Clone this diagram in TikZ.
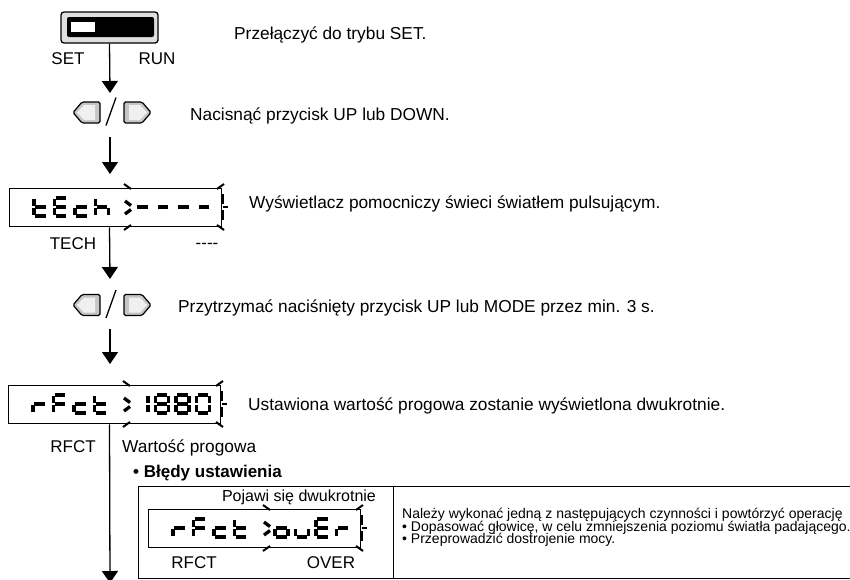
\documentclass[tikz,border=0pt]{standalone}
\usepackage{fontspec}
\setmainfont{Liberation Sans}
\usetikzlibrary{arrows.meta}

\tikzset{
  arr/.style={line width=1.3pt, -{Triangle[width=16pt,length=12pt]}},
  seg/.style={line width=3.3pt},
  flash/.style={line width=2pt},
  lcdbox/.style={draw, line width=1.4pt, minimum width=212pt, minimum height=38pt, inner sep=0pt, anchor=north west},
  txt/.style={anchor=base west, inner sep=0pt, font=\fontsize{17.3}{20}\selectfont},
  lbl/.style={anchor=base, inner sep=0pt, font=\fontsize{17}{20}\selectfont},
  small/.style={anchor=base west, inner sep=0pt, font=\fontsize{14}{14}\selectfont},
}

% seven segments of one character, y downwards
\newcommand{\sega}{\draw[seg] (1.3,0) -- (11.7,0);}
\newcommand{\segb}{\draw[seg] (13,1.3) -- (13,7.7);}
\newcommand{\segc}{\draw[seg] (13,10.3) -- (13,16.7);}
\newcommand{\segd}{\draw[seg] (1.3,18) -- (11.7,18);}
\newcommand{\sege}{\draw[seg] (0,10.3) -- (0,16.7);}
\newcommand{\segf}{\draw[seg] (0,1.3) -- (0,7.7);}
\newcommand{\segg}{\draw[seg] (1.3,9) -- (11.7,9);}
\newcommand{\segchar}[3]{\begin{scope}[shift={(#1,#2)}]\edef\seglist{#3}\foreach \sg in \seglist {\csname seg\sg\endcsname}\end{scope}}

% display: name, x, y, main characters, sub characters
\newcommand{\lcd}[5]{%
  \node[lcdbox] (#1) at (#2,#3) {};
  \foreach \dg [count=\i from 0] in {#4}
    {\pgfmathsetmacro\cx{#2+25+20.5*\i}\segchar{\cx}{#3+10}{\dg}}
  \foreach \dg [count=\i from 0] in {#5}
    {\pgfmathsetmacro\cx{#2+127+20.5*\i}\segchar{\cx}{#3+10}{\dg}}
  \begin{scope}[shift={(#2,#3)}]
    \draw[seg] (116,13) -- (122,17.5);
    \draw[seg] (122,21.5) -- (116,26);
    \draw[flash] (115,-4) -- (122,1);
    \draw[flash] (115,42) -- (122,37);
    \draw[flash] (208,1) -- (215,-4);
    \draw[flash] (208,37) -- (215,42);
    \draw[flash] (214,6) -- (214,16) (214,22) -- (214,32) (214,19) -- (219,19);
  \end{scope}}

% UP / DOWN keys round a centre line
\newcommand{\keys}[1]{%
  \draw[line width=1.2pt, fill=gray!45, rounded corners=1.5pt] (73,#1) -- (82,#1-10.5) -- (100,#1-10.5) -- (100,#1+10.5) -- (82,#1+10.5) -- cycle;
  \fill[gray!12] (77,#1) -- (84,#1-7.5) -- (95,#1-7.5) -- (95,#1+7.5) -- (84,#1+7.5) -- cycle;
  \draw[line width=1.2pt, fill=gray!45, rounded corners=1.5pt] (151,#1) -- (142,#1-10.5) -- (124,#1-10.5) -- (124,#1+10.5) -- (142,#1+10.5) -- cycle;
  \fill[gray!12] (147,#1) -- (140,#1-7.5) -- (129,#1-7.5) -- (129,#1+7.5) -- (140,#1+7.5) -- cycle;
  \draw[line width=1.3pt] (106,#1+13) -- (116,#1-15);}

\begin{document}
\begin{tikzpicture}[x=1pt,y=-1pt]
  \useasboundingbox (0,0) rectangle (850,579);
  \clip (0,0) rectangle (850,579);
  % switch
  \node[draw, line width=1.3pt, rounded corners=3pt, fill=gray!25, minimum width=97pt, minimum height=31pt, inner sep=0pt] (sw) at (109.5,27.5) {};
  \fill[rounded corners=2pt] (67,17) rectangle (154,37);
  \fill[white] (71,22) rectangle (95,32);
  \node[lbl] (set) at (68,64) {SET};
  \node[lbl] (run) at (157,64) {RUN};
  \node[txt] (t1) at (234,39) {Przełączyć do trybu SET.};
  \coordinate (a1) at (110,93);
  \draw[arr] (sw.south) -- (a1);
  % keys
  \keys{112.5}
  \node[txt] (t2) at (190,120) {Nacisnąć przycisk UP lub DOWN.};
  \coordinate (k1) at (110,137);
  \coordinate (a2) at (110,174);
  \draw[arr] (k1) -- (a2);
  % TECH display
  \lcd{d1}{9}{188}{{d,e,f,g},{a,d,e,f,g},{d,e,g},{c,e,f,g}}{{g},{g},{g},{g}}
  \node[txt] (t3) at (249,208) {Wyświetlacz pomocniczy świeci światłem pulsującym.};
  \node[lbl] (tech) at (73,249) {TECH};
  \node[lbl] (dash) at (207,248) {-{}-{}-{}-};
  \coordinate (a3) at (110,279);
  \draw[arr] (d1.south -| sw.south) -- (a3);
  % keys
  \keys{305}
  \node[txt] (t4) at (178,312) {Przytrzymać naciśnięty przycisk UP lub MODE przez min. 3 s.};
  \coordinate (k2) at (110,329);
  \coordinate (a4) at (110,364);
  \draw[arr] (k2) -- (a4);
  % RFCT display
  \lcd{d2}{8}{385}{{e,g},{a,e,f,g},{d,e,g},{d,e,f,g}}{{b,c},{a,b,c,d,e,f,g},{a,b,c,d,e,f,g},{a,b,c,d,e,f}}
  \node[txt] (t5) at (248,410) {Ustawiona wartość progowa zostanie wyświetlona dwukrotnie.};
  \node[lbl] (rfct) at (73,452) {RFCT};
  \node[txt] (thr) at (122,452) {Wartość progowa};
  \coordinate (a5) at (110,583);
  \draw[arr] (d2.south -| sw.south) -- (a5);
  % setting errors
  \node[txt, font=\fontsize{17}{20}\selectfont\bfseries] (err) at (133,477) {• Błędy ustawienia};
  \draw[line width=0.9pt] (138,486) rectangle (870,578);
  \draw[line width=0.9pt] (393,486) -- (393,578);
  \node[lbl, font=\fontsize{16}{18}\selectfont] (twice) at (299,501) {Pojawi się dwukrotnie};
  \lcd{d3}{148}{509}{{e,g},{a,e,f,g},{d,e,g},{d,e,f,g}}{{c,d,e,g},{c,d,e},{a,d,e,f,g},{e,g}}
  \node[lbl] (rfct2) at (194,568) {RFCT};
  \node[lbl] (over) at (331,568) {OVER};
  \node[small] (r1) at (402,518.5) {Należy wykonać jedną z następujących czynności i powtórzyć operację};
  \node[small] (r2) at (402,531) {• Dopasować głowicę, w celu zmniejszenia poziomu światła padającego.};
  \node[small] (r3) at (402,543.5) {• Przeprowadzić dostrojenie mocy.};
\end{tikzpicture}
\end{document}
